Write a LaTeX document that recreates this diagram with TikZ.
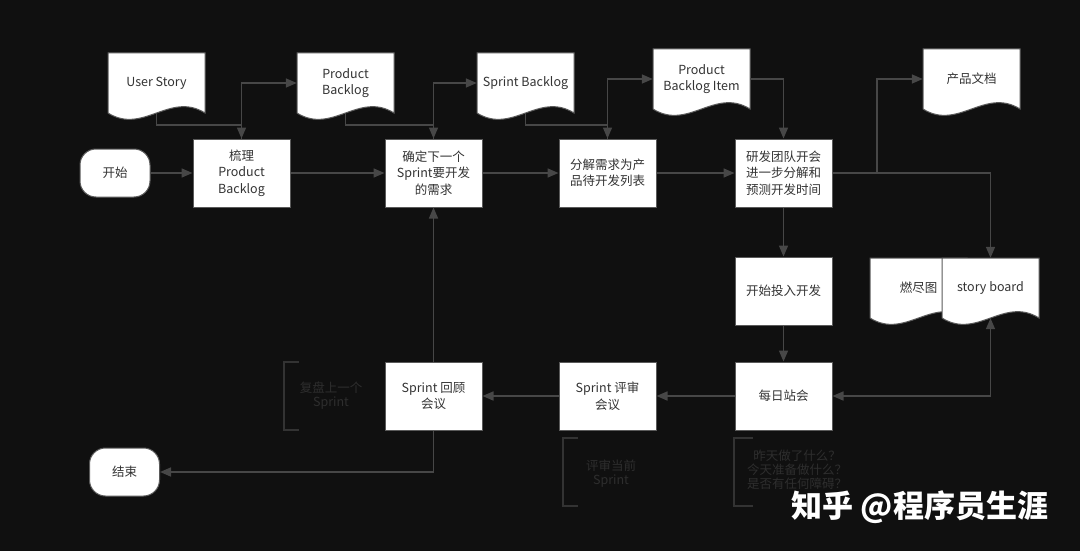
\documentclass[tikz,border=0pt]{standalone}
\usepackage{fontspec}
\setmainfont{Noto Sans CJK SC}
\usetikzlibrary{arrows.meta}
\definecolor{bgdark}{HTML}{101010}
\definecolor{linegray}{HTML}{474747}
\definecolor{edgegray}{HTML}{5A5A5A}
\definecolor{textgray}{HTML}{333333}
\definecolor{notegray}{HTML}{333333}
\definecolor{notetextgray}{HTML}{2E2E2E}
\tikzset{
  procbox/.style={rectangle, draw=edgegray, line width=1pt, fill=white, text=textgray,
    minimum width=97pt, minimum height=68pt, inner sep=0pt, align=center,
    font=\fontsize{12.5}{16.5}\selectfont},
  termbox/.style={procbox, rounded corners=16pt, minimum width=70pt, minimum height=48pt},
  docbox/.style={rectangle, minimum width=97pt, minimum height=60pt, inner sep=0pt,
    align=center, text=textgray, font=\fontsize{12.5}{16.5}\selectfont},
  docline/.style={draw=edgegray, line width=1pt, fill=white},
  tip/.style={-{Triangle[length=11pt,width=9pt]}},
  flow/.style={draw=linegray, line width=1.6pt, tip},
  bracket/.style={draw=notegray, line width=1.4pt},
  notetext/.style={text=notetextgray, align=center, font=\fontsize{12.5}{14}\selectfont}
}
% document shape: left x, top y
\newcommand{\docshape}[2]{%
  \filldraw[docline] (#1,#2) -- ++(97,0) -- ++(0,60)
    .. controls +(-35,-22) and +(35,22) .. ++(-97,0) -- cycle;}
\begin{document}
\begin{tikzpicture}[x=1pt,y=-1pt]
  \fill[bgdark] (0,0) rectangle (1080,551);

  % documents
  \docshape{108}{53}
  \node[docbox] (userstory) at (156.5,83) {User Story};
  \docshape{297}{53}
  \node[docbox] (prodbl) at (345.5,83) {Product\\Backlog};
  \docshape{477}{53}
  \node[docbox] (sprintbl) at (525.5,83) {Sprint Backlog};
  \docshape{653}{49}
  \node[docbox] (pbitem) at (701.5,79) {Product\\Backlog Item};
  \docshape{923}{49}
  \node[docbox] (proddoc) at (971.5,79) {产品文档};
  \docshape{870}{258}
  \node[docbox] (burndown) at (918.5,288) {燃尽图};
  \docshape{942}{258}
  \node[docbox] (storyboard) at (990.5,288) {story board};

  % main row
  \node[termbox] (start) at (115,173) {开始};
  \node[procbox] (sortpb) at (241.5,173) {梳理\\Product\\Backlog};
  \node[procbox] (pickreq) at (433.5,173) {确定下一个\\Sprint要开发\\的需求};
  \node[procbox] (split) at (607.5,173) {分解需求为产\\品待开发列表};
  \node[procbox] (devmeet) at (783.5,173) {研发团队开会\\进一步分解和\\预测开发时间};

  % lower part
  \node[procbox] (begindev) at (783.5,291) {开始投入开发};
  \node[procbox] (standup) at (783.5,396) {每日站会};
  \node[procbox] (review) at (607.5,396) {Sprint 评审\\会议};
  \node[procbox] (retro) at (433.5,396) {Sprint 回顾\\会议};
  \node[termbox] (finish) at (124.5,472) {结束};

  % notes
  \draw[bracket] (299,362) -- (284,362) -- (284,430) -- (299,430);
  \node[notetext] (retronote) at (331,396) {复盘上一个\\Sprint};
  \draw[bracket] (578,438) -- (563,438) -- (563,506) -- (578,506);
  \node[notetext] (reviewnote) at (611,474) {评审当前\\Sprint};
  \draw[bracket] (753,438) -- (734,438) -- (734,506) -- (753,506);
  \node[notetext] (standupnote) at (797,470) {昨天做了什么？\\今天准备做什么？\\是否有任何障碍？};

  % connectors
  \draw[flow] (start) -- (sortpb);
  \draw[flow] (sortpb) -- (pickreq);
  \draw[flow] (pickreq) -- (split);
  \draw[flow] (split) -- (devmeet);
  \draw[flow] (userstory.south) -- ++(0,12) -| (sortpb.north);
  \draw[flow] (sortpb.north) |- (prodbl.west);
  \draw[flow] (prodbl.south) -- ++(0,12) -| (pickreq.north);
  \draw[flow] (pickreq.north) |- (sprintbl.west);
  \draw[flow] (sprintbl.south) -- ++(0,12) -| (split.north);
  \draw[flow] (split.north) |- (pbitem.west);
  \draw[flow] (pbitem.east) -| (devmeet.north);
  \coordinate (fork) at (877,173);
  \draw[flow] (devmeet.east) -- (fork) |- (proddoc.west);
  \draw[flow] (fork) -| (storyboard.north);
  \draw[flow] (devmeet) -- (begindev);
  \draw[flow] (begindev) -- (standup);
  \draw[flow, {Triangle[length=11pt,width=9pt]}-{Triangle[length=11pt,width=9pt]}] (standup.east) -| (storyboard.south);
  \draw[flow] (standup) -- (review);
  \draw[flow] (review) -- (retro);
  \draw[flow] (retro) -- (pickreq);
  \draw[flow] (retro.south) |- (finish.east);

  % watermark
  \node[text=white, font=\bfseries\fontsize{31}{31}\selectfont] (mark) at (920,507) {知乎 @程序员生涯};
\end{tikzpicture}
\end{document}
